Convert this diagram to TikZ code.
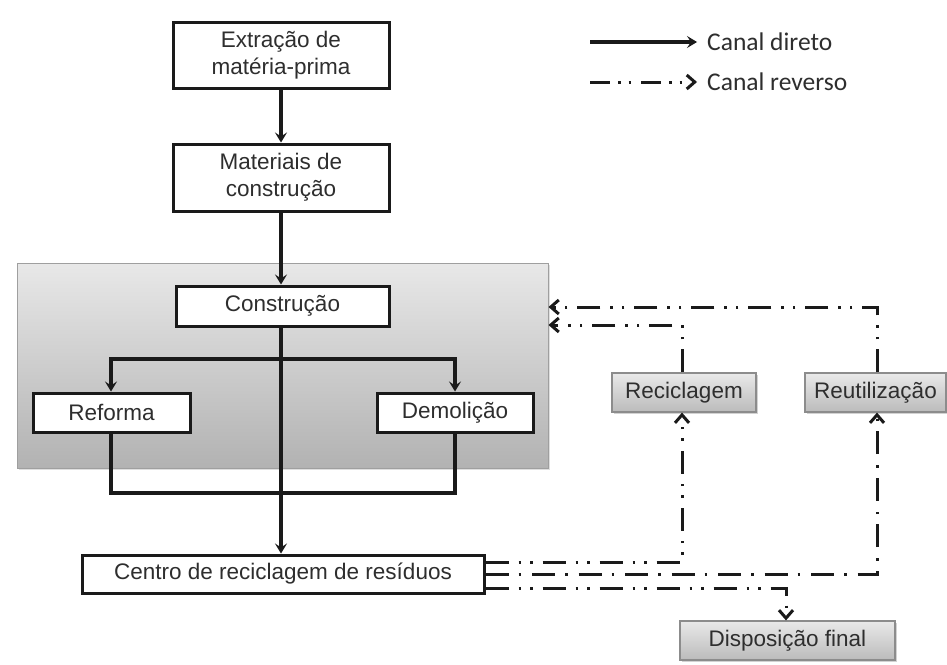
\documentclass[tikz,border=0pt]{standalone}
\usepackage{fontspec}
\setmainfont{Liberation Sans}
\newfontfamily\legendfont{Carlito}
\usetikzlibrary{arrows.meta,shadows,calc}
\definecolor{ink}{HTML}{1A1A1A}
\definecolor{txt}{HTML}{2E2E2E}
\definecolor{paneltop}{HTML}{E8E8E8}
\definecolor{panelbot}{HTML}{B2B2B2}
\definecolor{gtop}{HTML}{E9E9E9}
\definecolor{gbot}{HTML}{BBBBBB}
\begin{document}
\begin{tikzpicture}[x=1pt,y=-1pt,
  wbox/.style={draw=ink, line width=3pt, fill=white, text=txt,
    font=\fontsize{22.5}{27}\selectfont, align=center, inner sep=0pt},
  gbox/.style={draw=gray!90, line width=1.2pt, top color=gtop, bottom color=gbot,
    text=txt, font=\fontsize{22.5}{27}\selectfont, inner sep=0pt,
    drop shadow={shadow xshift=1.5pt, shadow yshift=-1.5pt, opacity=0.35}},
  panelbox/.style={draw=gray!75, line width=1pt, top color=paneltop, bottom color=panelbot,
    inner sep=0pt, minimum width=531pt, minimum height=205pt,
    drop shadow={shadow xshift=2pt, shadow yshift=-2pt, opacity=0.25}},
  tip/.style={-{Stealth[length=10pt,width=12pt,inset=4pt]}},
  rtip/.style={-{Straight Barb[length=8pt,width=14pt,line width=3pt]}},
  flow/.style={draw=ink, line width=3.2pt, tip},
  plain/.style={draw=ink, line width=3.2pt},
  rev/.style={draw=ink, line width=3pt,
    dash pattern=on 23pt off 10pt on 2.5pt off 9pt on 2.5pt off 10pt, rtip},
  revone/.style={draw=ink, line width=3pt,
    dash pattern=on 23pt off 10pt on 2.5pt off 11pt, rtip},
  revleg/.style={draw=ink, line width=3pt,
    dash pattern=on 20pt off 8pt on 2.5pt off 8pt on 2.5pt off 10pt, rtip},
  legtext/.style={anchor=west, text=txt, font=\legendfont\fontsize{25.5}{30}\selectfont, inner sep=0pt}
]
\useasboundingbox (0,0) rectangle (947,664);
\fill[white] (0,0) rectangle (947,664);

% gray panel
\node[panelbox] (panel) at (282.5,365.5) {};

% boxes
\node[wbox, minimum width=216pt, minimum height=66pt] (extr) at (281,55) {Extração de\\matéria-prima};
\node[wbox, minimum width=216pt, minimum height=67pt] (mat) at (281,177.5) {Materiais de\\construção};
\node[wbox, minimum width=213pt, minimum height=40pt] (cons) at (282.5,306) {Construção};
\node[wbox, minimum width=157pt, minimum height=39pt] (ref) at (111.5,412.5) {Reforma};
\node[wbox, minimum width=156pt, minimum height=39pt] (dem) at (455,412.5) {Demolição};
\node[wbox, minimum width=402pt, minimum height=38pt] (cent) at (283,574) {Centro de reciclagem de resíduos};

\node[gbox, minimum width=144pt, minimum height=39pt] (recic) at (684,392.5) {Reciclagem};
\node[gbox, minimum width=141pt, minimum height=39pt] (reut) at (875.5,392.5) {Reutilização};
\node[gbox, minimum width=215pt, minimum height=39pt] (disp) at (787.5,640.5) {Disposição final};

% direct flow
\draw[flow] (extr.south -| 281,0) -- (mat.north -| 281,0);
\draw[flow] (mat.south -| 281,0) -- (cons.north -| 281,0);
\draw[flow] (cons.south -| 281,0) -- (cent.north -| 281,0);
\coordinate (br) at (281,359);
\draw[flow] (br) -| (ref.north -| 111,0);
\draw[flow] (br) -| (dem.north);
\draw[plain] (ref.south -| 111,0) -- (111,493) -| (dem.south);

% reverse flow
\draw[rev] (cent.east |- 0,562) -| (recic.south -| 682,0);
\draw[revone] (cent.east |- 0,574) -| (reut.south -| 877,0);
\draw[rev] (cent.east |- 0,588) -| (disp.north -| 786,0);
\draw[rev] (reut.north -| 877,0) |- (panel.east |- 0,307);
\draw[rev] (recic.north -| 682,0) |- (panel.east |- 0,325);

% legend
\coordinate (la1) at (590,42);
\coordinate (lb1) at (697,42);
\coordinate (la2) at (590,82);
\coordinate (lb2) at (697,82);
\draw[flow] (la1) -- (lb1);
\draw[revleg] (la2) -- (lb2);
\node[legtext] (t1) at (707,42) {Canal direto};
\node[legtext] (t2) at (707,82) {Canal reverso};
\end{tikzpicture}
\end{document}
